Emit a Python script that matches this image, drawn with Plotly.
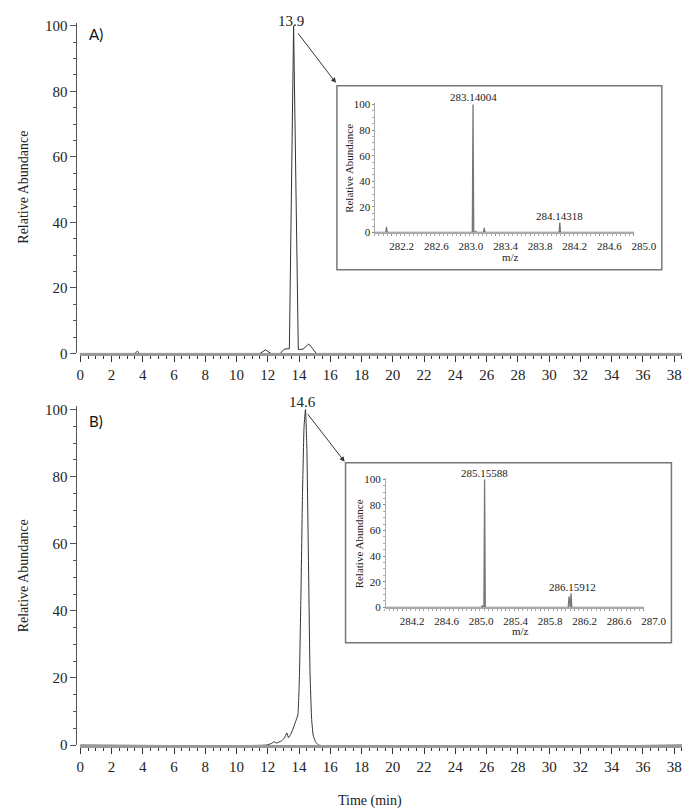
import plotly.graph_objects as go

W, H = 697, 810


def px(x):
    return x / W


def py(y):
    return 1 - y / H


# ---------------- data ----------------
# Chromatogram A
time_a = [0, 3.5, 3.65, 3.8, 11.5, 11.85, 12.2, 12.8, 13.05, 13.3, 13.38, 13.65, 13.95,
          14.25, 14.45, 14.62, 14.85, 15.1, 38.5]
abund_a = [0, 0, 0.7, 0, 0, 1.1, 0, 0, 1.3, 1.3, 1.5, 100, 1.2,
           1.3, 2.2, 2.9, 1.6, 0, 0]

# Chromatogram B
time_b = [0, 11.9, 12.25, 12.4, 12.55, 12.85, 13.05, 13.22, 13.32, 13.5, 13.7, 13.92, 14.02,
          14.12, 14.22, 14.32, 14.41, 14.5, 14.6, 14.7, 14.8, 14.9, 15.05, 15.25, 38.5]
abund_b = [0, 0, 0.5, 1.0, 0.6, 1.2, 2.0, 3.6, 2.2, 3.5, 6.0, 9.0, 20,
           45, 75, 95, 100, 88, 55, 22, 8, 3, 1, 0, 0]

# Mass spectrum A (inset)
mz_a = [282.14, 283.14004, 283.17, 283.27, 284.14318]
int_a = [4.4, 100, 1.0, 3.6, 7.7]
range_a = [282.0, 285.0]

# Mass spectrum B (inset)
mz_b = [284.12, 285.13, 285.15588, 286.135, 286.15912]
int_b = [0.5, 1.5, 100, 8.5, 11]
range_b = [284.0, 287.0]

peak_label_a = "13.9"
peak_label_b = "14.6"
ms_label_a = ["283.14004", "284.14318"]
ms_label_b = ["285.15588", "286.15912"]

x_ticks = list(range(0, 40, 2))


def stick_profile(mz, inten, lo, hi, half=0.008):
    xs, ys = [lo], [0]
    for m, h in sorted(zip(mz, inten)):
        xs += [m - half, m, m + half]
        ys += [0, h, 0]
    xs.append(hi)
    ys.append(0)
    return xs, ys


SERIF = "Liberation Serif"
TXT = "#222"

fig = go.Figure()

fig.add_trace(go.Scatter(x=time_a, y=abund_a, mode="lines", xaxis="x", yaxis="y",
                         line=dict(color="#333", width=1), showlegend=False))
fig.add_trace(go.Scatter(x=time_b, y=abund_b, mode="lines", xaxis="x2", yaxis="y2",
                         line=dict(color="#333", width=1, shape="spline", smoothing=0.4),
                         showlegend=False))

sxa, sya = stick_profile(mz_a, int_a, *range_a)
fig.add_trace(go.Scatter(x=sxa, y=sya, mode="lines", xaxis="x3", yaxis="y3",
                         line=dict(color="#777", width=1.3), showlegend=False))
sxb, syb = stick_profile(mz_b, int_b, *range_b)
fig.add_trace(go.Scatter(x=sxb, y=syb, mode="lines", xaxis="x4", yaxis="y4",
                         line=dict(color="#777", width=1.3), showlegend=False))


def main_x(anchor):
    return dict(domain=[px(71), px(697)], range=[0, 38.5], anchor=anchor,
                tickmode="array", tickvals=x_ticks, ticks="outside", ticklen=6,
                tickcolor="#333", tickwidth=1,
                minor=dict(dtick=0.5, tick0=0, ticks="outside", ticklen=3, tickcolor="#333"),
                showline=True, linecolor="#999", linewidth=3,
                showgrid=False, zeroline=False,
                tickfont=dict(family=SERIF, size=15, color=TXT))


def main_y(y0, y100):
    top = y100 - (y0 - y100) * 0.01
    return dict(domain=[py(y0), py(top)], range=[0, 101], anchor="free", position=px(67),
                tickmode="array", tickvals=[0, 20, 40, 60, 80, 100],
                ticks="outside", ticklen=6, tickcolor="#555",
                minor=dict(dtick=5, tick0=0, ticks="outside", ticklen=3, tickcolor="#555"),
                showline=True, linecolor="#555", linewidth=1,
                showgrid=False, zeroline=False,
                tickfont=dict(family=SERIF, size=15, color=TXT))


def inset_x(x0, x1, rng, anchor):
    return dict(domain=[px(x0), px(x1)], range=rng, anchor=anchor,
                tick0=rng[0] + 0.2, dtick=0.4, tickformat=".1f",
                ticks="outside", ticklen=2, tickcolor="#888",
                minor=dict(dtick=0.05, ticks="outside", ticklen=2, tickcolor="#aaa"),
                showline=True, linecolor="#aaa", linewidth=2,
                showgrid=False, zeroline=False, ticklabelshift=10,
                tickfont=dict(family=SERIF, size=11, color=TXT))


def inset_y(y0, y100, xpos, anchor):
    top = y100 - (y0 - y100) * 0.01
    return dict(domain=[py(y0), py(top)], range=[0, 101], anchor="free", position=px(xpos),
                tickmode="array", tickvals=[0, 20, 40, 60, 80, 100],
                ticks="outside", ticklen=2, tickcolor="#888",
                minor=dict(dtick=5, tick0=0, ticks="outside", ticklen=2, tickcolor="#aaa"),
                showline=True, linecolor="#aaa", linewidth=1,
                showgrid=False, zeroline=False,
                tickfont=dict(family=SERIF, size=11, color=TXT))


def note(text, x, y, size, angle=0, family=SERIF, anchor="center", color=TXT):
    return dict(text=text, x=px(x), y=py(y), xref="paper", yref="paper", showarrow=False,
                textangle=angle, xanchor=anchor, yanchor="middle",
                font=dict(family=family, size=size, color=color))


annotations = [
    note("A)", 78, 21, 15, family="Lato", anchor="left", color="#111"),
    note("B)", 78, 415, 15, family="Lato", anchor="left", color="#111"),
    note(peak_label_a, 290, 8, 15),
    note(peak_label_b, 302, 395, 15),
    dict(text="", x=px(337), y=py(71), xref="paper", yref="paper", showarrow=True,
         ax=-39, ay=-51, arrowhead=2, arrowsize=1, arrowwidth=1, arrowcolor="#333"),
    dict(text="", x=px(346), y=py(456), xref="paper", yref="paper", showarrow=True,
         ax=-38, ay=-49, arrowhead=2, arrowsize=1, arrowwidth=1, arrowcolor="#333"),
    note("Relative Abundance", 12, 177, 14, angle=-90),
    note("Relative Abundance", 12, 572, 14, angle=-90),
    note("Time (min)", 372, 801, 14),
    # inset A texts
    note("Relative Abundance", 351, 158, 11, angle=-90),
    note("m/z", 519, 248, 11),
    note(ms_label_a[0], 480, 85, 11),
    note(ms_label_a[1], 570, 206, 11),
    # inset B texts
    note("Relative Abundance", 361, 540, 11, angle=-90),
    note("m/z", 529, 628, 11),
    note(ms_label_b[0], 492, 468, 11),
    note(ms_label_b[1], 583, 583, 11),
]

shapes = [
    dict(type="rect", xref="paper", yref="paper", x0=px(338), x1=px(676), y0=py(261), y1=py(74),
         line=dict(color="#777", width=1.5)),
    dict(type="rect", xref="paper", yref="paper", x0=px(347), x1=px(686), y0=py(640), y1=py(457),
         line=dict(color="#777", width=1.5)),
]

fig.update_layout(
    width=W, height=H, margin=dict(l=0, r=0, t=0, b=0),
    font=dict(family=SERIF, color=TXT),
    paper_bgcolor="white", plot_bgcolor="rgba(0,0,0,0)",
    xaxis=main_x("y"), yaxis=main_y(346, 13),
    xaxis2=main_x("y2"), yaxis2=main_y(744, 403),
    xaxis3=inset_x(377, 647, range_a, "y3"), yaxis3=inset_y(223, 93, 377, "x3"),
    xaxis4=inset_x(388, 657, range_b, "y4"), yaxis4=inset_y(604, 474, 388, "x4"),
    annotations=annotations, shapes=shapes, showlegend=False,
)

fig.write_html("out.html")
